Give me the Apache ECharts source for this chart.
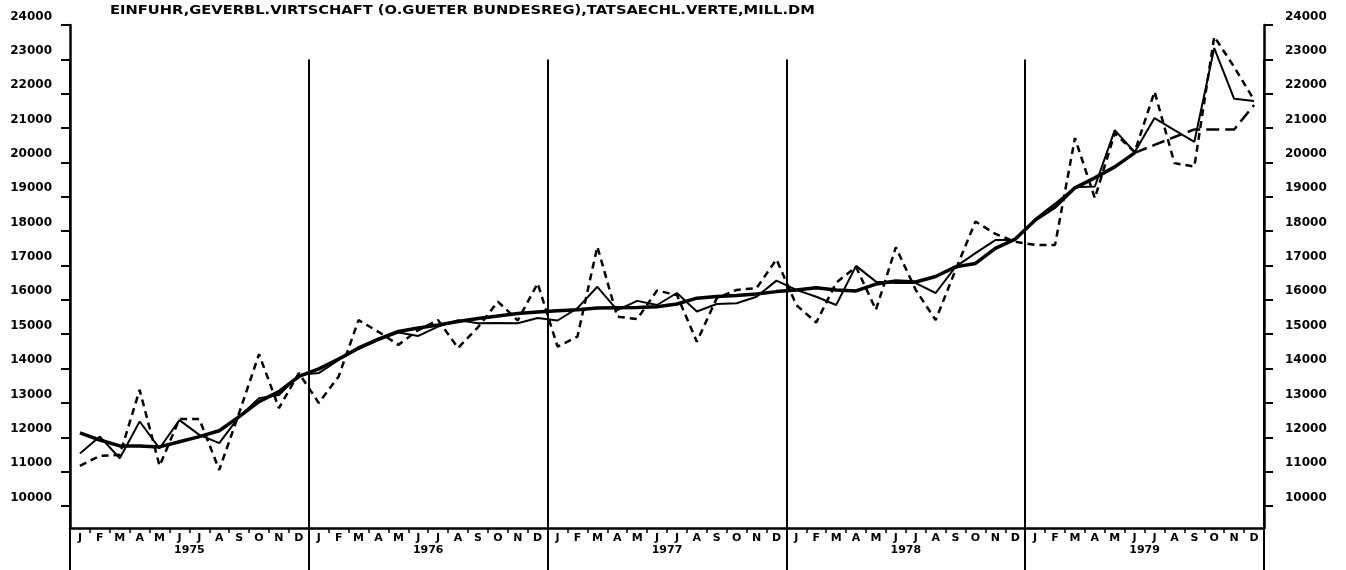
<!DOCTYPE html>
<html>
<head>
<meta charset="utf-8">
<script src="https://cdn.jsdelivr.net/npm/echarts@6/dist/echarts.min.js"></script>
<style>html,body{margin:0;padding:0;background:#fff;}#c{width:1346px;height:570px;}</style>
</head>
<body>
<div id="c"></div>
<script>
var years = ['1975','1976','1977','1978','1979'];
var monthLetters = ['J','F','M','A','M','J','J','A','S','O','N','D'];
var yTicks = [10000,11000,12000,13000,14000,15000,16000,17000,18000,19000,20000,21000,22000,23000,24000];
var titleText = 'EINFUHR,GEVERBL.VIRTSCHAFT (O.GUETER BUNDESREG),TATSAECHL.VERTE,MILL.DM';

// original values (dotted)
var original = [
 11170,11460,11490,13380,11170,12530,12530,11050,12710,14420,12850,13870,
 13000,13770,15410,15070,14690,15120,15410,14600,15200,15950,15400,16480,
 14640,14930,17550,15510,15440,16270,16140,14780,16050,16290,16340,17180,
 15850,15340,16500,16960,15710,17530,16290,15410,16870,18280,17920,17690,
 17600,17600,20710,18960,20850,20300,22060,19980,19880,23660,22780,21820
];
// seasonally adjusted (thin solid)
var adjusted = [
 11530,12020,11390,12460,11680,12500,12070,11830,12600,13140,13230,13810,
 13870,14250,14570,14830,15050,14950,15220,15410,15320,15330,15320,15470,
 15400,15760,16380,15700,15970,15850,16200,15660,15880,15900,16090,16560,
 16290,16090,15850,16990,16530,16490,16490,16200,16960,17360,17740,17740,
 18350,18800,19280,19300,20940,20300,21290,20940,20600,23330,21850,21790
];
// trend (thick solid)
var trend = [
 12130,11920,11750,11750,11720,11870,12020,12190,12600,13040,13330,13770,
 13990,14280,14600,14860,15080,15180,15270,15370,15460,15530,15600,15650,
 15680,15710,15760,15770,15780,15800,15880,16050,16100,16130,16170,16240,
 16290,16350,16290,16260,16460,16550,16520,16680,16960,17060,17500,17770,
 18320,18700,19260,19550,19870,20280,null,null,null,null,null,null
];
// trend continuation (long dashes)
var trendTail = [
 null,null,null,null,null,null,null,null,null,null,null,null,
 null,null,null,null,null,null,null,null,null,null,null,null,
 null,null,null,null,null,null,null,null,null,null,null,null,
 null,null,null,null,null,null,null,null,null,null,null,null,
 null,null,null,null,null,20280,20510,20740,20960,20960,20960,21670
];

var cats = [];
years.forEach(function(y){ monthLetters.forEach(function(m,i){ cats.push(y+'-'+i); }); });

var FONT = 'DejaVu Sans';
var chart = echarts.init(document.getElementById('c'), null, {renderer:'canvas'});
var yAxisCommon = function(pos, margin){
  return {
    type:'value', position:pos, min:9360, max:24000,
    axisLine:{show:true, lineStyle:{color:'#000', width:2.5}},
    axisTick:{show:true, customValues:yTicks, length:9, lineStyle:{color:'#000', width:2}},
    axisLabel:{customValues:yTicks, margin:margin, color:'#000', fontFamily:FONT, fontWeight:'bold', fontSize:12,
      verticalAlign:'bottom', lineHeight:17, formatter:function(v){ return String(v); }},
    splitLine:{show:false}
  };
};
chart.setOption({
  animation:false,
  backgroundColor:'#fff',
  graphic:[{type:'text', left:110, top:4, scaleX:1.13,
    style:{text:titleText, font:'bold 13px "DejaVu Sans"', fill:'#000'}}],
  grid:{left:70, right:82, top:25, bottom:42, containLabel:false},
  xAxis:[
    {type:'category', data:cats, boundaryGap:true, position:'bottom',
     axisLine:{show:true, lineStyle:{color:'#000', width:2.5}},
     axisTick:{show:true, interval:0, length:5, lineStyle:{color:'#000', width:1.5}},
     axisLabel:{interval:0, margin:5, color:'#000', fontFamily:FONT, fontWeight:'bold', fontSize:11,
       formatter:function(v){ return monthLetters[+v.split('-')[1]]; }},
     splitLine:{show:false}},
    {type:'category', data:years, boundaryGap:true, position:'bottom',
     axisLine:{show:false},
     axisTick:{show:true, inside:true, interval:0, length:468.6, lineStyle:{color:'#000', width:2}},
     axisLabel:{show:false}, splitLine:{show:false}},
    {type:'category', data:years, boundaryGap:true, position:'bottom',
     axisLine:{show:false},
     axisTick:{show:true, interval:0, length:42, lineStyle:{color:'#000', width:2}},
     axisLabel:{interval:0, margin:17, color:'#000', fontFamily:FONT, fontWeight:'bold', fontSize:11},
     splitLine:{show:false}}
  ],
  yAxis:[ yAxisCommon('left',18), yAxisCommon('right',21) ],
  series:[
    {name:'original', type:'line', data:original, symbol:'none', xAxisIndex:0, yAxisIndex:0,
     lineStyle:{color:'#000', width:2.5, type:[7,5]}},
    {name:'adjusted', type:'line', data:adjusted, symbol:'none', xAxisIndex:0, yAxisIndex:0,
     lineStyle:{color:'#000', width:2}},
    {name:'trend', type:'line', data:trend, symbol:'none', xAxisIndex:0, yAxisIndex:0,
     lineStyle:{color:'#000', width:3.5}},
    {name:'trendTail', type:'line', data:trendTail, symbol:'none', xAxisIndex:0, yAxisIndex:0,
     lineStyle:{color:'#000', width:2.5, type:[13,6]}}
  ]
});
</script>
</body>
</html>
